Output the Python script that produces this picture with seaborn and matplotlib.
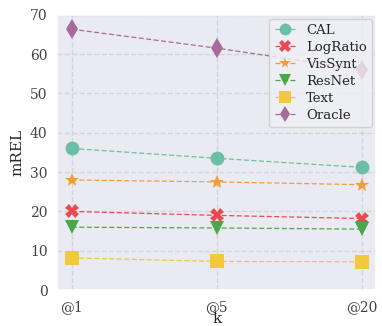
import pandas as pd
import matplotlib
matplotlib.use('Agg')
import matplotlib.pyplot as plt
import seaborn as sns

# valores
ks = ['@1', '@5', '@20']
cal = [36.0, 33.5, 31.2]
logratio = [20.0, 19.0, 18.2]
vissynt = [28.0, 27.5, 26.8]
resnet = [16.0, 15.8, 15.5]
text = [8.2, 7.3, 7.2]
oracle = [66.3, 61.5, 56.0]

metodos = ['CAL', 'LogRatio', 'VisSynt', 'ResNet', 'Text', 'Oracle']
series = [cal, logratio, vissynt, resnet, text, oracle]
cores = ['#6bbfa8', '#e84a4f', '#f39c3c', '#4aa84a', '#f2c93a', '#a86a9a']
marcadores = ['o', 'X', '*', 'v', 's', 'd']

linhas = []
for m, vals in zip(metodos, series):
    for k, v in zip(ks, vals):
        linhas.append({'k': k, 'mREL': v, 'metodo': m})
dados = pd.DataFrame(linhas)

sns.set_theme(style='darkgrid', rc={'grid.linestyle': '--', 'grid.color': '#d4d4dc',
                                    'axes.facecolor': '#eaeaf2'})
plt.rcParams['font.family'] = ['DejaVu Serif']

fig, ax = plt.subplots(figsize=(3.82, 3.26), dpi=100)
sns.lineplot(data=dados, x='k', y='mREL', hue='metodo', style='metodo',
             palette=dict(zip(metodos, cores)), markers=dict(zip(metodos, marcadores)),
             dashes={m: (4, 2) for m in metodos}, markersize=10, linewidth=0.9,
             markeredgewidth=0, sort=False, ax=ax)
ax.set_ylim(0, 70)
ax.set_yticks(range(0, 71, 10))
ax.set_xlabel('k', fontsize=11, labelpad=-1)
ax.set_ylabel('mREL', fontsize=11)
ax.tick_params(labelsize=10, colors='#444444', pad=1)
ax.legend(title=None, loc='upper right', fontsize=9.5, frameon=True,
          facecolor='#f0f0f6', edgecolor='#cccccc', handlelength=1.6, labelspacing=0.3,
          borderaxespad=0.3, markerscale=0.85)
plt.subplots_adjust(left=0.15, right=0.985, top=0.955, bottom=0.11)
plt.savefig('out.png', dpi=100)
